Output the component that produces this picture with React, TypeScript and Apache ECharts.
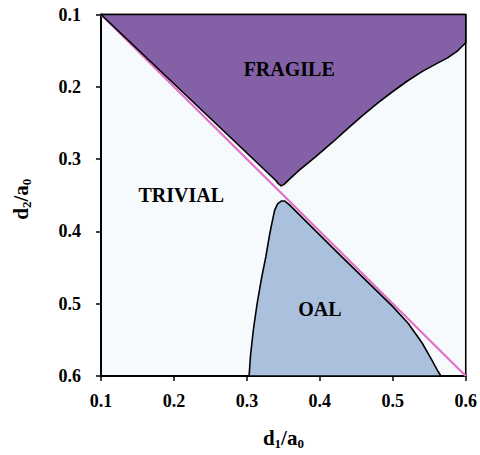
import React, { useEffect, useRef } from "react";
import * as echarts from "echarts";

// Axis ticks
const xTicks = [0.1, 0.2, 0.3, 0.4, 0.5, 0.6];
const yTicks = [0.1, 0.2, 0.3, 0.4, 0.5, 0.6];

// Boundary of the FRAGILE region (d1/a0, d2/a0)
const fragileBoundary: number[][] = [
  [0.1, 0.1],
  [0.6, 0.1],
  [0.6, 0.139],
  [0.594, 0.145],
  [0.588, 0.151],
  [0.575, 0.16],
  [0.56, 0.168],
  [0.54, 0.179],
  [0.52, 0.192],
  [0.5, 0.2065],
  [0.48, 0.222],
  [0.46, 0.2385],
  [0.44, 0.256],
  [0.417, 0.277],
  [0.394, 0.297],
  [0.371, 0.316],
  [0.357, 0.329],
  [0.351, 0.335],
  [0.347, 0.337],
  [0.343, 0.334],
  [0.34, 0.33],
];

// Boundary of the OAL region
const oalBoundary: number[][] = [
  [0.303, 0.6],
  [0.305, 0.571],
  [0.309, 0.535],
  [0.314, 0.5],
  [0.32, 0.465],
  [0.326, 0.435],
  [0.331, 0.405],
  [0.335, 0.385],
  [0.338, 0.371],
  [0.342, 0.362],
  [0.347, 0.358],
  [0.352, 0.358],
  [0.358, 0.363],
  [0.426, 0.431],
  [0.499, 0.503],
  [0.521, 0.527],
  [0.54, 0.554],
  [0.553, 0.577],
  [0.561, 0.592],
  [0.566, 0.6],
];

// Diagonal d2 = d1
const diagonal: number[][] = [
  [0.1, 0.1],
  [0.6, 0.6],
];

// Region labels
const regionNames = ["FRAGILE", "TRIVIAL", "OAL"];
const regionPositions: number[][] = [
  [0.358, 0.176],
  [0.21, 0.35],
  [0.4, 0.508],
];

const FONT = "Liberation Serif";

function polygonSeries(points: number[][], fill: string, z: number) {
  return {
    type: "custom",
    coordinateSystem: "cartesian2d",
    z,
    silent: true,
    data: [points[0]],
    renderItem: (_params: any, api: any) => {
      const pts = points.map((p) => api.coord(p));
      return {
        type: "polygon",
        shape: { points: pts },
        style: { fill, stroke: "#000", lineWidth: 1.6, lineJoin: "round" },
      };
    },
  };
}

export default function App() {
  const ref = useRef<HTMLDivElement>(null);
  useEffect(() => {
    if (!ref.current) return;
    const chart = echarts.init(ref.current, undefined, { renderer: "svg" });
    const labelStyle = {
      fontFamily: FONT,
      fontWeight: "bold",
      fontSize: 18,
      color: "#000",
    };
    const nameRich = {
      b: { fontFamily: FONT, fontWeight: "bold", fontSize: 21, color: "#000", lineHeight: 24 },
      s: {
        fontFamily: FONT,
        fontWeight: "bold",
        fontSize: 13,
        color: "#000",
        lineHeight: 24,
        verticalAlign: "bottom",
        padding: [7, 0, 0, 0],
      },
    };
    chart.setOption({
      animation: false,
      backgroundColor: "#fff",
      grid: {
        left: 101,
        top: 14.5,
        width: 366.7,
        height: 366.5,
        show: true,
        backgroundColor: "#f7fafc",
        borderColor: "#000",
        borderWidth: 1.6,
      },
      xAxis: {
        type: "value",
        min: xTicks[0],
        max: xTicks[xTicks.length - 1],
        interval: 0.1,
        splitLine: { show: false },
        axisLine: { show: true, lineStyle: { color: "#000", width: 2 } },
        axisTick: { show: true, length: 5, lineStyle: { color: "#000", width: 1.5 } },
        axisLabel: {
          ...labelStyle,
          margin: 16,
          formatter: (v: number) => v.toFixed(1),
        },
        name: "{b|d}{s|1}{b|/a}{s|0}",
        nameLocation: "middle",
        nameGap: 50,
        nameTextStyle: { rich: nameRich },
      },
      yAxis: {
        type: "value",
        inverse: true,
        min: yTicks[0],
        max: yTicks[yTicks.length - 1],
        interval: 0.1,
        splitLine: { show: false },
        axisLine: { show: true, lineStyle: { color: "#000", width: 2 } },
        axisTick: { show: true, length: 5, lineStyle: { color: "#000", width: 1.5 } },
        axisLabel: {
          ...labelStyle,
          margin: 20,
          formatter: (v: number) => v.toFixed(1),
        },
        name: "{b|d}{s|2}{b|/a}{s|0}",
        nameLocation: "middle",
        nameRotate: 90,
        nameGap: 68,
        nameTextStyle: { rich: nameRich, padding: [0, 8, 0, 0] },
      },
      series: [
        {
          type: "line",
          data: diagonal,
          z: 1,
          symbol: "none",
          silent: true,
          lineStyle: { color: "#e070c8", width: 2.2 },
        },
        polygonSeries(fragileBoundary, "#8461a6", 2),
        polygonSeries(oalBoundary, "#aac0dc", 2),
        {
          type: "custom",
          coordinateSystem: "cartesian2d",
          z: 5,
          silent: true,
          data: regionPositions,
          renderItem: (params: any, api: any) => {
            const p = api.coord([api.value(0), api.value(1)]);
            return {
              type: "text",
              x: p[0],
              y: p[1],
              style: {
                text: regionNames[params.dataIndex],
                fill: "#000",
                font: `bold 20px '${FONT}'`,
                align: "center",
                verticalAlign: "middle",
              },
            };
          },
        },
      ],
    });
    return () => chart.dispose();
  }, []);
  return (
    <div
      ref={ref}
      style={{ position: "fixed", left: 0, top: 0, width: 480, height: 455 }}
    />
  );
}
